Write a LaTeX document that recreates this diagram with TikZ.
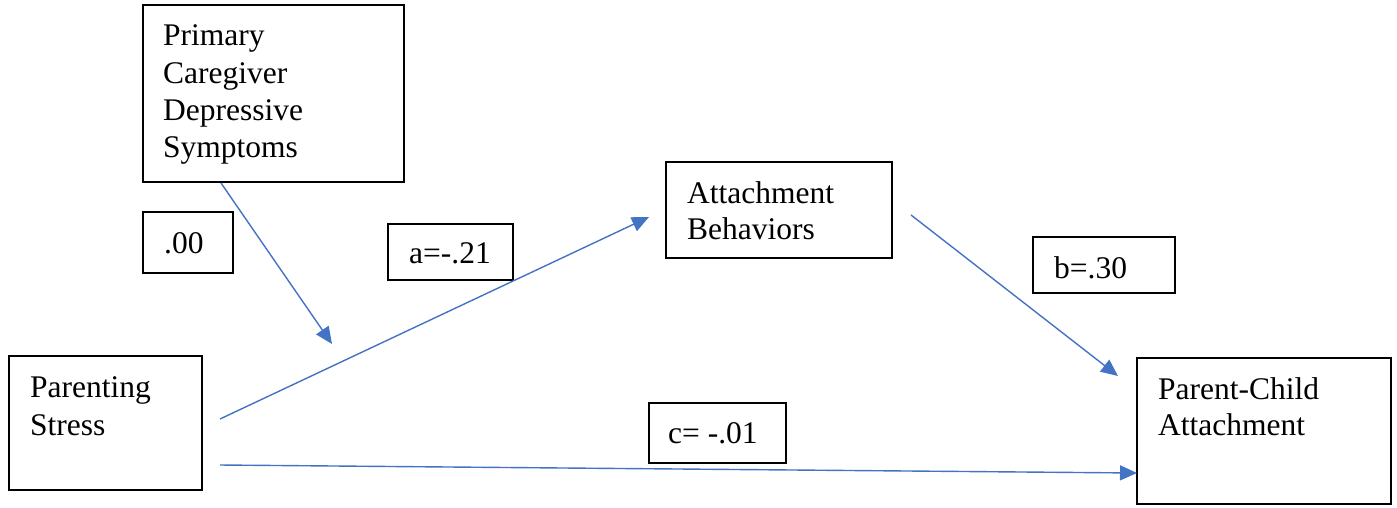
\documentclass[tikz,border=0pt]{standalone}
\usepackage{fontspec}
\setmainfont{Liberation Serif}
\usetikzlibrary{arrows.meta}
\definecolor{arrowblue}{HTML}{4472C4}
\tikzset{
  boxshape/.style={draw=black, line width=1.5pt, inner sep=0pt},
  label text/.style={anchor=base west, inner sep=0pt, font=\fontsize{31.5}{37}\selectfont},
  link/.style={draw=arrowblue, line width=1.4pt, -{Triangle[length=17pt,width=15pt]}},
}
\begin{document}
\begin{tikzpicture}[x=1pt,y=-1pt]
\useasboundingbox (0,0) rectangle (1397,507);
% boxes
\draw[boxshape] (143,5) rectangle (404,182);
\node[label text] (pc1) at (163,45) {Primary};
\node[label text] (pc2) at (163,83) {Caregiver};
\node[label text] (pc3) at (163,120) {Depressive};
\node[label text] (pc4) at (163,157) {Symptoms};
\coordinate (pcdBottom) at (221,183);

\draw[boxshape] (143,212) rectangle (233,273);
\node[label text] (w00) at (164,253) {.00};

\draw[boxshape] (388,224) rectangle (513,280);
\node[label text] (wa) at (409,263) {a=-.21};

\draw[boxshape] (666,162) rectangle (892,258);
\node[label text] (ab1) at (687,203) {Attachment};
\node[label text] (ab2) at (687,239) {Behaviors};

\draw[boxshape] (1033,237) rectangle (1175,293);
\node[label text] (wb) at (1054,278) {b=.30};

\draw[boxshape] (9,356) rectangle (202,490);
\node[label text] (ps1) at (30,397) {Parenting};
\node[label text] (ps2) at (30,435) {Stress};

\draw[boxshape] (649,403) rectangle (786,463);
\node[label text] (wc) at (668,443) {c= -.01};

\draw[boxshape] (1137,358) rectangle (1391,504);
\node[label text] (pca1) at (1158,399) {Parent-Child};
\node[label text] (pca2) at (1158,435) {Attachment};

% connector end points
\coordinate (modTip) at (332,344);
\coordinate (psA) at (220,419);
\coordinate (abIn) at (649,217);
\coordinate (abOut) at (911,215);
\coordinate (pcaInB) at (1118,376);
\coordinate (psC) at (220,465);
\coordinate (pcaInC) at (1137,473);

\draw[link] (pcdBottom) -- (modTip);
\draw[link] (psA) -- (abIn);
\draw[link] (abOut) -- (pcaInB);
\draw[link] (psC) -- (pcaInC);
\end{tikzpicture}
\end{document}
